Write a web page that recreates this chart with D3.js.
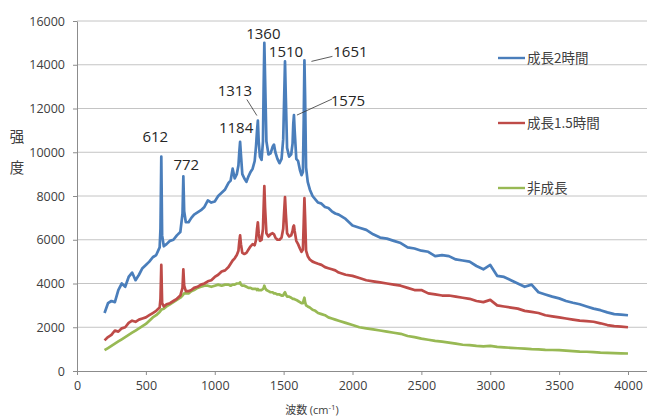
<!DOCTYPE html>
<html>
<head>
<meta charset="utf-8">
<script src="https://cdn.jsdelivr.net/npm/d3@7"></script>
<style>
  body { margin: 0; background: #fff; }
  svg { display: block; }
  text { font-family: "Open Sans", "Noto Sans", sans-serif; }
  .cjk { font-family: "Noto Sans CJK JP", "Noto Sans CJK SC", sans-serif; }
</style>
</head>
<body>
<div id="chart"></div>
<script>
// wavenumber grid (cm-1), denser around the peaks
var waveNumber = [
  200, 225, 250, 275, 300, 325, 350, 375, 400, 425, 450, 475, 500, 525, 550, 575, 600,
  606, 612, 618, 630, 650, 675, 700, 725, 750, 766, 772, 778,
  790, 810, 830, 850, 875, 900, 925, 950, 975, 1000, 1025, 1050, 1075, 1100,
  1115, 1130, 1145, 1160, 1172, 1178, 1184, 1190, 1200, 1215, 1230, 1245, 1260, 1275,
  1290, 1300, 1307, 1313, 1319, 1328, 1340, 1350, 1355, 1360, 1365, 1375, 1390, 1405,
  1420, 1430, 1440, 1455, 1470, 1485, 1497, 1504, 1510, 1516, 1525, 1540, 1555, 1565,
  1570, 1575, 1580, 1592, 1605, 1618, 1630, 1640, 1646, 1651, 1656, 1663, 1675, 1690,
  1710, 1730, 1750, 1775, 1800, 1825, 1850, 1875, 1900,
  1950, 2000, 2050, 2100, 2150, 2200, 2250, 2300, 2350, 2400, 2450, 2500, 2550, 2600, 2650, 2700, 2750, 2800,
  2850, 2900, 2950, 3000, 3050, 3100, 3150, 3200, 3250, 3300, 3350, 3400, 3450, 3500, 3550, 3600, 3650, 3700,
  3750, 3800, 3850, 3900, 3950, 4000
];

// 成長2時間
var growth2h = [
  2650, 3100, 3200, 3150, 3700, 4000, 3850, 4300, 4500, 4150, 4400, 4700, 4850, 5000, 5200, 5300, 5650,
  6500, 9800, 6200, 5700, 5800, 5950, 6000, 6200, 6350, 7200, 8900, 7300,
  6800, 6800, 7000, 7150, 7250, 7350, 7500, 7800, 7700, 7750, 8000, 8150, 8300, 8600,
  8700, 9250, 8800, 9000, 9400, 10000, 10480, 9900, 9000, 8800, 8650, 8900, 9100, 9250,
  9600, 10300, 11000, 11450, 10500, 9800, 9650, 10500, 13000, 15000, 13500, 10500, 9900, 9950,
  10250, 10350, 10000, 9700, 9500, 9700, 10600, 12500, 14150, 12500, 10200, 9800, 9900, 10400,
  11300, 11700, 11000, 9700, 9600, 9200, 8950, 9100, 11500, 14200, 12500, 9300, 8650, 8300,
  8000, 7850, 7700, 7650, 7500, 7450, 7300, 7200, 7150,
  6950, 6650, 6550, 6450, 6250, 6100, 6050, 5950, 5850, 5650, 5600, 5500, 5450, 5250, 5300, 5250, 5100, 5050,
  5000, 4800, 4650, 4850, 4350, 4300, 4150, 4000, 3850, 3950, 3600, 3500, 3400, 3320, 3200, 3120, 3050, 2950,
  2850, 2780, 2680, 2600, 2580, 2550
];

// 成長1.5時間
var growth15h = [
  1400, 1550, 1650, 1850, 1800, 1950, 2000, 2200, 2300, 2250, 2350, 2400, 2450, 2550, 2650, 2750, 2900,
  3300, 4850, 3100, 2950, 3050, 3100, 3200, 3300, 3450, 3800, 4650, 3900,
  3650, 3650, 3700, 3800, 3850, 3950, 4000, 4100, 4150, 4300, 4400, 4550, 4600, 4750,
  4900, 5050, 5150, 5300, 5500, 5900, 6200, 5800, 5400, 5350, 5400, 5550, 5700, 5800,
  5750, 6000, 6500, 6800, 6300, 5950, 6000, 6500, 7500, 8450, 7500, 6300, 6150, 6250,
  6300, 6250, 6100, 6000, 6000, 6100, 6500, 7300, 7950, 7200, 6300, 6150, 6200, 6400,
  6600, 6650, 6400, 5950, 5800, 5600, 5450, 5550, 6800, 7900, 7000, 5500, 5250, 5100,
  5000, 4950, 4900, 4850, 4750, 4700, 4650, 4600, 4500,
  4400, 4350, 4250, 4150, 4100, 4050, 4000, 3950, 3900, 3800, 3700, 3700, 3550, 3500, 3450, 3450, 3400, 3350,
  3300, 3200, 3150, 3250, 3000, 2950, 2900, 2850, 2750, 2700, 2650, 2550, 2500, 2450, 2400, 2350, 2300, 2280,
  2250, 2180, 2100, 2050, 2030, 2000
];

// 非成長
var noGrowth = [
  950, 1050, 1150, 1250, 1350, 1450, 1550, 1650, 1750, 1850, 1950, 2050, 2150, 2300, 2450, 2550, 2700,
  2750, 2800, 2820, 2850, 2950, 3050, 3150, 3250, 3350, 3450, 3500, 3550,
  3550, 3550, 3650, 3700, 3800, 3850, 3900, 3900, 3850, 3900, 3950, 3900, 3950, 3950,
  3900, 3950, 3950, 4000, 4000, 4000, 4050, 3950, 3900, 3900, 3850, 3800, 3800, 3750,
  3750, 3750, 3700, 3750, 3700, 3700, 3700, 3750, 3800, 3900, 3800, 3700, 3650, 3600,
  3600, 3550, 3550, 3500, 3500, 3450, 3450, 3550, 3600, 3500, 3400, 3400, 3350, 3300,
  3300, 3300, 3280, 3250, 3200, 3150, 3100, 3100, 3250, 3350, 3150, 3000, 2950, 2900,
  2800, 2750, 2650, 2600, 2550, 2450, 2400, 2350, 2300,
  2200, 2100, 2000, 1950, 1900, 1850, 1800, 1750, 1700, 1600, 1550, 1480, 1430, 1380, 1340, 1300, 1250, 1200,
  1180, 1150, 1130, 1150, 1100, 1080, 1060, 1040, 1020, 1000, 990, 970, 960, 950, 930, 910, 890, 880,
  860, 840, 830, 820, 810, 800
];

var seriesNames = ["成長2時間", "成長1.5時間", "非成長"];
var seriesColors = ["#4a7ebb", "#be4b48", "#98b954"];
var xTicks = [0, 500, 1000, 1500, 2000, 2500, 3000, 3500, 4000];
var yTicks = [0, 2000, 4000, 6000, 8000, 10000, 12000, 14000, 16000];
var peaks = [612, 772, 1184, 1313, 1360, 1510, 1575, 1651];

// label placement relative to the peak top (px)
var peakLabelPos = {
  612: { dx: -6, dy: -20 },
  772: { dx: 3, dy: -12 },
  1184: { dx: -4, dy: -14 },
  1313: { dx: -23, dy: -30, lead: [-11, -21, -1, -5] },
  1360: { dx: -1, dy: -9 },
  1510: { dx: 1, dy: -10 },
  1575: { dx: 54, dy: -14, lead: [3, 0, 38, -16] },
  1651: { dx: 46, dy: -9, lead: [7, 1, 28, -4] }
};

var margin = { top: 21, right: 0, bottom: 45, left: 77 };
var width = 647 - margin.left - margin.right;
var height = 416 - margin.top - margin.bottom;

var svg = d3
  .select("#chart")
  .append("svg")
  .attr("width", 647)
  .attr("height", 416)
  .append("g")
  .attr("transform", "translate(" + margin.left + "," + margin.top + ")");

var x = d3.scaleLinear().domain([0, 4000]).range([0, 551]);
var y = d3.scaleLinear().domain([0, 16000]).range([height, 0]);

// gridlines
svg
  .append("g")
  .selectAll("line")
  .data(yTicks.slice(1))
  .enter()
  .append("line")
  .attr("x1", 0)
  .attr("x2", width)
  .attr("y1", function (d) { return y(d); })
  .attr("y2", function (d) { return y(d); })
  .attr("stroke", "#c4c4c4")
  .attr("stroke-width", 1);

// axes
var xAxis = svg
  .append("g")
  .attr("transform", "translate(0," + height + ")")
  .call(d3.axisBottom(x).tickValues(xTicks).tickFormat(d3.format("d"))
    .tickSize(4).tickSizeOuter(0).tickPadding(6));
xAxis.select(".domain").remove();
xAxis.selectAll("line").attr("stroke", "#8c8c8c");
xAxis.selectAll("text").attr("font-size", "12.5px").attr("fill", "#404040")
  .style("font-family", "'Open Sans', sans-serif");
svg.append("line")
  .attr("x1", 0).attr("x2", width)
  .attr("y1", height + 0.5).attr("y2", height + 0.5)
  .attr("stroke", "#8c8c8c");

var yAxis = svg
  .append("g")
  .call(d3.axisLeft(y).tickValues(yTicks).tickFormat(d3.format("d"))
    .tickSize(4).tickSizeOuter(0).tickPadding(8));
yAxis.select(".domain").attr("stroke", "#8c8c8c");
yAxis.selectAll("line").attr("stroke", "#8c8c8c");
yAxis.selectAll("text").attr("font-size", "12.5px").attr("fill", "#404040")
  .style("font-family", "'Open Sans', sans-serif");

// axis titles
var yTitle = svg
  .append("text")
  .attr("class", "cjk")
  .attr("x", -60)
  .attr("y", 121)
  .attr("font-size", "14.5px")
  .attr("fill", "#404040")
  .attr("text-anchor", "middle");
yTitle.append("tspan").attr("x", -60).attr("dy", 0).text("强");
yTitle.append("tspan").attr("x", -60).attr("dy", 31).text("度");

var xTitle = svg
  .append("text")
  .attr("x", 235)
  .attr("y", height + 43)
  .attr("font-size", "11px")
  .attr("fill", "#404040")
  .attr("text-anchor", "middle");
xTitle.append("tspan").attr("class", "cjk").text("波数 ");
xTitle.append("tspan").text("(cm");
xTitle.append("tspan").attr("font-size", "8px").attr("dy", -4).text("-1");
xTitle.append("tspan").attr("dy", 4).text(")");

// lines
var seriesData = [growth2h, growth15h, noGrowth];
var line = d3
  .line()
  .x(function (d, i) { return x(waveNumber[i]); })
  .y(function (d) { return y(d); });

svg
  .selectAll(".series")
  .data(seriesData.slice().reverse())
  .enter()
  .append("path")
  .attr("class", "series")
  .attr("fill", "none")
  .attr("stroke", function (d, i) { return seriesColors[2 - i]; })
  .attr("stroke-width", 2.7)
  .attr("stroke-linejoin", "round")
  .attr("d", line);

// peak labels
peaks.forEach(function (p) {
  var px = x(p);
  var py = y(growth2h[waveNumber.indexOf(p)]);
  var pos = peakLabelPos[p];
  svg
    .append("text")
    .attr("x", px + pos.dx)
    .attr("y", py + pos.dy)
    .attr("dy", "0.35em")
    .attr("text-anchor", "middle")
    .attr("font-size", "15px")
    .attr("fill", "#262626")
    .text(p);
  if (pos.lead) {
    svg
      .append("line")
      .attr("x1", px + pos.lead[0])
      .attr("y1", py + pos.lead[1])
      .attr("x2", px + pos.lead[2])
      .attr("y2", py + pos.lead[3])
      .attr("stroke", "#333")
      .attr("stroke-width", 0.8);
  }
});

// legend
var legend = svg.append("g").attr("transform", "translate(421,37)");
seriesNames.forEach(function (name, i) {
  legend
    .append("line")
    .attr("x1", 0)
    .attr("x2", 27)
    .attr("y1", i * 65)
    .attr("y2", i * 65)
    .attr("stroke", seriesColors[i])
    .attr("stroke-width", 2.4);
  legend
    .append("text")
    .attr("class", "cjk")
    .attr("x", 29)
    .attr("y", i * 65)
    .attr("dy", "0.35em")
    .attr("font-size", "13.5px")
    .attr("fill", "#404040")
    .text(name);
});
</script>
</body>
</html>
